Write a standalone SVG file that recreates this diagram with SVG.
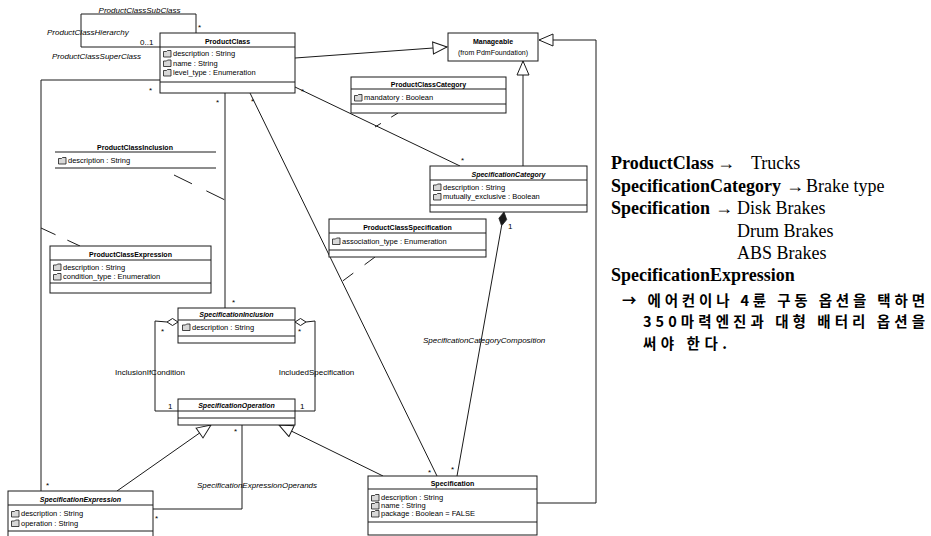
<svg xmlns="http://www.w3.org/2000/svg" xmlns:xlink="http://www.w3.org/1999/xlink" width="931" height="536" viewBox="0 0 931 536">
<style>
.bx{fill:#fff;stroke:#1a1a1a;stroke-width:1}
.ln{fill:none;stroke:#1a1a1a;stroke-width:1}
.dl{fill:none;stroke:#1a1a1a;stroke-width:1;stroke-dasharray:16 13}
.t{font-family:"Liberation Sans",Arial,sans-serif;font-size:7px;font-weight:bold;text-anchor:middle;fill:#000}
.i{font-style:italic}
.a{font-family:"Liberation Sans",Arial,sans-serif;font-size:7.5px;fill:#000}
.lb{font-family:"Liberation Sans",Arial,sans-serif;font-size:8px;fill:#000}
.m{font-family:"Liberation Sans",Arial,sans-serif;font-size:8px;fill:#000}
.r{font-family:"Liberation Serif","Times New Roman",serif;font-size:18px;fill:#000}
.rb{font-weight:bold}
.k{font-family:"Noto Sans CJK KR",sans-serif;font-size:14.5px;font-weight:bold;fill:#000}
</style>
<defs>
<g id="ic"><path d="M0.5,1.5 h3 l1,-1 h3.5 v6.5 h-7.5 z" fill="#d8d8d8" stroke="#1a1a1a" stroke-width="0.8"/></g>
<marker id="gen" markerUnits="userSpaceOnUse" markerWidth="16" markerHeight="14" viewBox="0 0 16 14" refX="15" refY="7" orient="auto"><path d="M1,1 L15,7 L1,13 z" fill="#fff" stroke="#1a1a1a" stroke-width="1"/></marker>
</defs>
<rect x="0" y="0" width="931" height="536" fill="#fff"/>

<g id="connectors">
<path class="ln" d="M196,33 V14 H81 V47 H160"/>
<path class="ln" d="M160,80 H41 V491"/>
<path class="ln" d="M225,93 V308"/>
<path class="ln" d="M295,58 L447,47" marker-end="url(#gen)"/>
<path class="ln" d="M537,503 H596 V40 H539" marker-end="url(#gen)"/>
<path class="ln" d="M523,166 V61" marker-end="url(#gen)"/>
<path class="ln" d="M295,87 L460,166"/>
<path class="ln" d="M250,93 L437,476"/>
<path class="ln" d="M457,476 L501.6,225.8"/>
<polygon points="504,212 506.7,219.6 501.6,225.8 498.9,218.2" fill="#1a1a1a" stroke="#1a1a1a" stroke-width="0.8"/>
<path class="ln" d="M167,322 L155,321 V411 H178"/>
<polygon points="178,322 172.5,318.5 167,322 172.5,325.5" class="bx"/>
<path class="ln" d="M306,322 L315,321 V411 H295"/>
<polygon points="295,322 300.5,318.5 306,322 300.5,325.5" class="bx"/>
<path class="ln" d="M117,491 L211,425" marker-end="url(#gen)"/>
<path class="ln" d="M383,476 L279,425" marker-end="url(#gen)"/>
<path class="ln" d="M242,425 V509 H153"/>
<path class="dl" d="M174,175 L225,200" style="stroke-dasharray:20 16"/>
<path class="dl" d="M41,228 L80,246"/>
<path class="dl" d="M398,113 L375,127" style="stroke-dasharray:8 12"/>
<path class="dl" d="M375,257 L340,283" style="stroke-dasharray:13 14"/>

<text class="lb i" x="139.5" y="13" text-anchor="middle">ProductClassSubClass</text>
<text class="lb i" x="47" y="35">ProductClassHierarchy</text>
<text class="lb i" x="52" y="59">ProductClassSuperClass</text>
<text class="lb" x="150" y="375" text-anchor="middle">InclusionIfCondition</text>
<text class="lb" x="316.5" y="375" text-anchor="middle">IncludedSpecification</text>
<text class="lb i" x="197" y="488">SpecificationExpressionOperands</text>
<text class="lb i" x="423" y="343">SpecificationCategoryComposition</text>

<text class="m" x="140" y="44.5">0..1</text>
<text class="m" x="198" y="30">*</text>
<text class="m" x="149" y="93">*</text>
<text class="m" x="216" y="105">*</text>
<text class="m" x="251" y="104">*</text>
<text class="m" x="301" y="94">*</text>
<text class="m" x="232" y="305">*</text>
<text class="m" x="161" y="334">*</text>
<text class="m" x="298" y="334">*</text>
<text class="m" x="234" y="434">*</text>
<text class="m" x="46" y="488">*</text>
<text class="m" x="155" y="521">*</text>
<text class="m" x="461" y="163">*</text>
<text class="m" x="428" y="475">*</text>
<text class="m" x="451" y="472">*</text>
<text class="m" x="168" y="409">1</text>
<text class="m" x="300" y="409">1</text>
<text class="m" x="508" y="229">1</text>
</g>

<g id="ProductClass">
<rect class="bx" x="160" y="33" width="135" height="60"/>
<path class="ln" d="M160,47 H295 M160,82 H295"/>
<text class="t" x="227.5" y="43.5">ProductClass</text>
<use href="#ic" x="163" y="50"/><text class="a" x="173" y="56">description : String</text>
<use href="#ic" x="163" y="59.5"/><text class="a" x="173" y="65.5">name : String</text>
<use href="#ic" x="163" y="69"/><text class="a" x="173" y="75">level_type : Enumeration</text>
</g>

<g id="Manageable">
<rect class="bx" x="448" y="33" width="90" height="28"/>
<text class="t" x="493" y="43.5">Manageable</text>
<text class="a" x="493" y="54.5" text-anchor="middle" style="font-size:7px">(from PdmFoundation)</text>
</g>

<g id="ProductClassCategory">
<rect class="bx" x="351" y="77" width="155" height="36"/>
<path class="ln" d="M351,89 H506 M351,104 H506"/>
<text class="t" x="428.5" y="86.5">ProductClassCategory</text>
<use href="#ic" x="354" y="94"/><text class="a" x="364" y="100">mandatory : Boolean</text>
</g>

<g id="SpecificationCategory">
<rect class="bx" x="430" y="166" width="157" height="46"/>
<path class="ln" d="M430,180 H587 M430,205 H587"/>
<text class="t i" x="508.5" y="176.5">SpecificationCategory</text>
<use href="#ic" x="433" y="183.5"/><text class="a" x="443" y="189.5">description : String</text>
<use href="#ic" x="433" y="193"/><text class="a" x="443" y="199">mutually_exclusive : Boolean</text>
</g>

<g id="ProductClassSpecification">
<rect class="bx" x="329" y="219" width="157" height="38"/>
<path class="ln" d="M329,233 H486 M329,250 H486"/>
<text class="t" x="407.5" y="229.5">ProductClassSpecification</text>
<use href="#ic" x="332" y="237.5"/><text class="a" x="342" y="243.5">association_type : Enumeration</text>
</g>

<g id="ProductClassInclusion">
<path class="ln" d="M55,152 H216 M55,168 H216"/>
<text class="t" x="135" y="149.5">ProductClassInclusion</text>
<use href="#ic" x="58" y="157"/><text class="a" x="68" y="163">description : String</text>
</g>

<g id="ProductClassExpression">
<rect class="bx" x="50" y="246" width="161" height="47"/>
<path class="ln" d="M50,260 H211 M50,283 H211"/>
<text class="t" x="130.5" y="256.5">ProductClassExpression</text>
<use href="#ic" x="53" y="263.5"/><text class="a" x="63" y="269.5">description : String</text>
<use href="#ic" x="53" y="273"/><text class="a" x="63" y="279">condition_type : Enumeration</text>
</g>

<g id="SpecificationInclusion">
<rect class="bx" x="178" y="308" width="117" height="35"/>
<path class="ln" d="M178,320 H295 M178,336 H295"/>
<text class="t i" x="236.5" y="317">SpecificationInclusion</text>
<use href="#ic" x="182" y="323.5"/><text class="a" x="192" y="329.5">description : String</text>
</g>

<g id="SpecificationOperation">
<rect class="bx" x="178" y="399" width="117" height="26"/>
<path class="ln" d="M178,411 H295 M178,418 H295"/>
<text class="t i" x="236.5" y="408">SpecificationOperation</text>
</g>

<g id="SpecificationExpression">
<rect class="bx" x="8" y="491" width="145" height="50"/>
<path class="ln" d="M8,505 H153 M8,531 H153"/>
<text class="t i" x="80.5" y="502">SpecificationExpression</text>
<use href="#ic" x="11" y="510"/><text class="a" x="21" y="516">description : String</text>
<use href="#ic" x="11" y="519.5"/><text class="a" x="21" y="525.5">operation : String</text>
</g>

<g id="Specification">
<rect class="bx" x="368" y="476" width="169" height="59"/>
<path class="ln" d="M368,489 H537 M368,522 H537"/>
<text class="t" x="452.5" y="486">Specification</text>
<use href="#ic" x="371" y="494"/><text class="a" x="381" y="500">description : String</text>
<use href="#ic" x="371" y="502"/><text class="a" x="381" y="508">name : String</text>
<use href="#ic" x="371" y="510"/><text class="a" x="381" y="516">package : Boolean = FALSE</text>
</g>

<g id="notes">
<text class="r" y="169"><tspan x="611" class="rb">ProductClass</tspan><tspan x="717">→</tspan><tspan x="751">Trucks</tspan></text>
<text class="r" y="192"><tspan x="611" class="rb">SpecificationCategory</tspan><tspan x="786">→</tspan><tspan x="806">Brake type</tspan></text>
<text class="r" y="214"><tspan x="611" class="rb">Specification</tspan><tspan x="715">→</tspan><tspan x="737">Disk Brakes</tspan></text>
<text class="r" x="737" y="237">Drum Brakes</text>
<text class="r" x="737" y="259">ABS Brakes</text>
<text class="r rb" x="611" y="281">SpecificationExpression</text>
<text class="k" x="622" y="306" textLength="303" lengthAdjust="spacing">→ 에어컨이나 4륜 구동 옵션을 택하면</text>
<text class="k" x="643" y="327" textLength="282" lengthAdjust="spacing">350마력엔진과 대형 배터리 옵션을</text>
<text class="k" x="643" y="349" textLength="84" lengthAdjust="spacing">써야 한다.</text>
</g>
</svg>
